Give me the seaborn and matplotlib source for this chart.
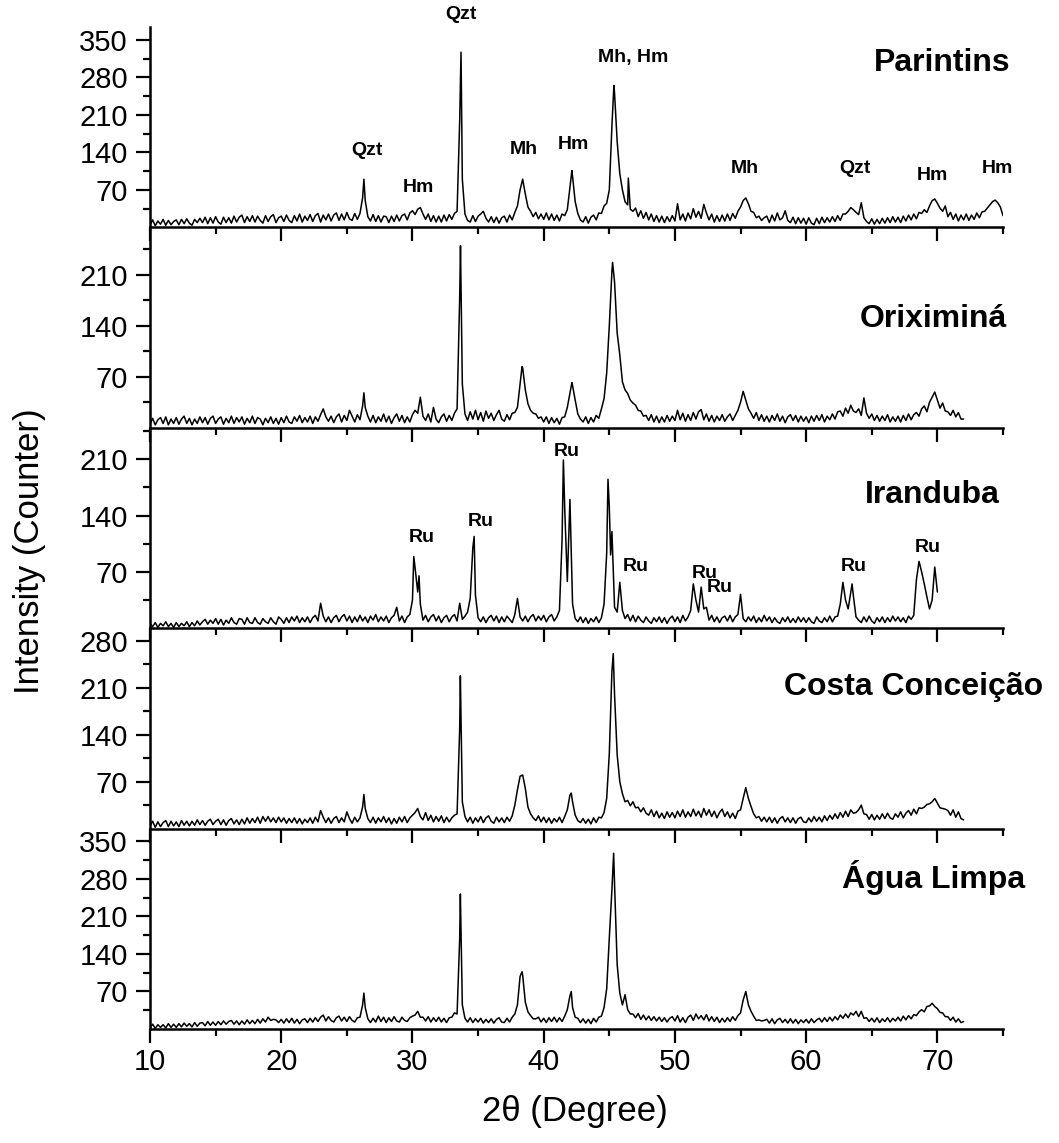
import numpy as np
import matplotlib
matplotlib.use("Agg")
import matplotlib.pyplot as plt
from matplotlib.ticker import MultipleLocator, FixedLocator
import seaborn as sns

# ---------------- data (counts on a 0.2 degree 2-theta grid starting at 10) ----------------
parintins_counts = [
    4, 14, 3, 12, 6,        # 10
    15, 4, 13, 5, 11,       # 11
    14, 5, 15, 7, 16,       # 12
    8, 4, 15, 9, 17,        # 13
    9, 19, 7, 18, 8,        # 14
    20, 10, 6, 19, 9,       # 15
    18, 8, 21, 10, 19,      # 16
    23, 9, 20, 11, 22,      # 17
    10, 21, 13, 8, 22,      # 18
    11, 20, 24, 9, 18,      # 19
    21, 11, 23, 13, 9,      # 20
    22, 12, 25, 10, 21,     # 21
    13, 24, 11, 22, 26,     # 22
    10, 23, 14, 25, 12,     # 23
    23, 27, 13, 25, 14,     # 24
    28, 16, 13, 26, 15,     # 25
    26, 55, 50, 20, 12,     # 26
    24, 11, 22, 10, 21,     # 27
    20, 9, 21, 11, 23,      # 28
    12, 22, 25, 14, 27,     # 29
    31, 24, 34, 37, 25,     # 30
    15, 25, 11, 22, 10,     # 31
    21, 10, 23, 12, 24,     # 32
    15, 26, 30, 200, 90,    # 33
    25, 13, 10, 22, 11,     # 34
    21, 25, 30, 17, 10,     # 35
    20, 9, 19, 8, 18,       # 36
    21, 10, 23, 14, 28,     # 37
    40, 70, 90, 62, 38,     # 38
    30, 20, 28, 16, 25,     # 39
    15, 27, 14, 25, 13,     # 40
    23, 12, 25, 22, 33,     # 41
    75, 95, 48, 26, 14,     # 42
    10, 20, 8, 19, 23,      # 43
    14, 27, 26, 40, 45,     # 44
    70, 190, 250, 160, 100, # 45
    70, 48, 42, 34, 30,     # 46
    36, 20, 31, 17, 28,     # 47
    14, 25, 11, 22, 10,     # 48
    21, 9, 20, 11, 22,      # 49
    12, 44, 14, 25, 12,     # 50
    27, 16, 35, 19, 30,     # 51
    17, 43, 27, 14, 25,     # 52
    10, 22, 11, 23, 12,     # 53
    25, 13, 26, 17, 30,     # 54
    38, 50, 55, 44, 30,     # 55
    28, 18, 21, 13, 18,     # 56
    21, 9, 23, 12, 27,      # 57
    14, 18, 31, 13, 9,      # 58
    19, 7, 18, 8, 17,       # 59
    6, 18, 8, 5, 17,        # 60
    7, 19, 9, 18, 10,       # 61
    20, 11, 22, 13, 25,     # 62
    25, 30, 37, 33, 28,     # 63
    24, 46, 18, 11, 7,      # 64
    16, 6, 15, 7, 17,       # 65
    8, 18, 9, 20, 10,       # 66
    19, 9, 21, 12, 23,      # 67
    14, 25, 16, 28, 26,     # 68
    33, 28, 40, 50, 53,     # 69
    45, 36, 30, 40, 20,     # 70
    28, 15, 25, 12, 23,     # 71
    14, 25, 13, 23, 15,     # 72
    27, 18, 29, 30, 36,     # 73
    42, 48, 51, 46, 38,     # 74
    22,                     # 75
]
parintins_peak_2theta = [26.3, 33.7, 42.15, 45.35, 46.45]
parintins_peak_counts = [90, 327, 106, 265, 92]

oriximina_counts = [
    5, 13, 4, 11, 14,       # 10
    6, 15, 4, 12, 6,        # 11
    14, 5, 12, 16, 6,       # 12
    13, 4, 12, 6, 15,       # 13
    7, 14, 5, 13, 16,       # 14
    6, 12, 15, 5, 13,       # 15
    7, 16, 6, 14, 8,        # 16
    15, 5, 13, 7, 16,       # 17
    6, 14, 12, 4, 13,       # 18
    7, 15, 6, 13, 5,        # 19
    14, 7, 16, 8, 6,        # 20
    15, 9, 17, 7, 14,       # 21
    8, 16, 6, 15, 9,        # 22
    18, 26, 15, 9, 16,      # 23
    7, 15, 19, 8, 17,       # 24
    10, 24, 16, 8, 18,      # 25
    11, 30, 28, 16, 8,      # 26
    17, 7, 15, 9, 19,       # 27
    8, 16, 6, 14, 19,       # 28
    9, 17, 7, 15, 8,        # 29
    18, 24, 20, 42, 16,     # 30
    10, 19, 8, 28, 12,      # 31
    7, 15, 19, 9, 17,       # 32
    10, 20, 26, 180, 60,    # 33
    19, 10, 22, 12, 24,     # 34
    11, 21, 9, 23, 13,      # 35
    20, 10, 18, 24, 12,     # 36
    9, 18, 11, 20, 21,      # 37
    28, 60, 82, 52, 33,     # 38
    24, 20, 19, 13, 15,     # 39
    8, 15, 6, 14, 7,        # 40
    13, 5, 14, 15, 28,      # 41
    47, 58, 38, 19, 12,     # 42
    8, 15, 6, 14, 8,        # 43
    17, 13, 26, 40, 75,     # 44
    140, 215, 200, 130, 100,# 45
    63, 52, 47, 38, 34,     # 46
    31, 24, 23, 16, 17,     # 47
    10, 18, 8, 16, 7,       # 48
    15, 8, 17, 9, 16,       # 49
    10, 24, 11, 20, 9,      # 50
    18, 10, 21, 12, 22,     # 51
    25, 11, 19, 9, 17,      # 52
    8, 16, 10, 18, 9,       # 53
    15, 19, 10, 17, 24,     # 54
    35, 50, 38, 26, 20,     # 55
    13, 21, 10, 18, 9,      # 56
    16, 8, 17, 10, 19,      # 57
    9, 16, 7, 15, 18,       # 58
    10, 17, 8, 16, 9,       # 59
    15, 7, 16, 9, 17,       # 60
    10, 18, 8, 16, 11,      # 61
    19, 12, 22, 23, 16,     # 62
    27, 20, 31, 23, 21,     # 63
    26, 17, 41, 20, 13,     # 64
    19, 10, 17, 9, 16,      # 65
    10, 18, 8, 15, 9,       # 66
    16, 8, 17, 10, 19,      # 67
    11, 18, 21, 16, 26,     # 68
    30, 22, 35, 42, 49,     # 69
    38, 27, 34, 23, 22,     # 70
    17, 24, 15, 21, 12,     # 71
    12,                     # 72
]
oriximina_peak_2theta = [26.3, 33.66, 38.35, 42.15, 45.25]
oriximina_peak_counts = [48, 250, 84, 62, 227]

iranduba_counts = [
    6, 2, 7, 1, 6,          # 10
    3, 8, 2, 6, 1,          # 11
    7, 2, 6, 3, 8,          # 12
    2, 7, 3, 9, 4,          # 13
    8, 11, 5, 10, 6,        # 14
    12, 5, 11, 4, 10,       # 15
    6, 13, 7, 5, 12,        # 16
    11, 5, 13, 7, 6,        # 17
    13, 7, 5, 12, 8,        # 18
    6, 13, 8, 5, 14,        # 19
    11, 6, 13, 7, 14,       # 20
    9, 15, 7, 13, 8,        # 21
    14, 7, 13, 16, 9,       # 22
    31, 15, 8, 14, 7,       # 23
    13, 16, 8, 14, 17,      # 24
    9, 15, 7, 14, 8,        # 25
    16, 9, 14, 7, 15,       # 26
    10, 17, 8, 14, 9,       # 27
    15, 7, 13, 16, 26,      # 28
    9, 15, 7, 14, 17,       # 29
    35, 75, 45, 30, 10,     # 30
    16, 8, 14, 17, 9,       # 31
    15, 7, 13, 16, 8,       # 32
    14, 17, 9, 31, 11,      # 33
    15, 20, 37, 100, 41,    # 34
    13, 8, 14, 7, 13,       # 35
    16, 9, 15, 7, 14,       # 36
    8, 15, 11, 7, 17,       # 37
    37, 14, 9, 15, 8,       # 38
    14, 17, 9, 15, 10,      # 39
    16, 8, 14, 17, 9,       # 40
    14, 22, 110, 150, 58,   # 41
    160, 30, 12, 8, 14,     # 42
    7, 13, 6, 12, 8,        # 43
    14, 7, 13, 30, 93,      # 44
    150, 120, 26, 20, 57,   # 45
    22, 12, 17, 9, 16,      # 46
    8, 15, 10, 7, 14,       # 47
    9, 6, 13, 8, 14,        # 48
    7, 13, 6, 12, 15,       # 49
    8, 14, 7, 16, 9,        # 50
    14, 22, 55, 35, 20,     # 51
    51, 24, 26, 10, 16,     # 52
    8, 14, 7, 13, 15,       # 53
    9, 16, 8, 14, 17,       # 54
    42, 12, 8, 14, 9,       # 55
    15, 7, 13, 8, 16,       # 56
    9, 14, 7, 13, 8,        # 57
    6, 13, 8, 14, 7,        # 58
    12, 7, 14, 8, 13,       # 59
    7, 13, 8, 6, 14,        # 60
    9, 7, 13, 8, 15,        # 61
    8, 14, 15, 30, 57,      # 62
    35, 24, 45, 40, 14,     # 63
    10, 7, 14, 8, 15,       # 64
    9, 6, 13, 8, 14,        # 65
    7, 13, 8, 15, 9,        # 66
    14, 8, 13, 7, 15,       # 67
    11, 16, 60, 83, 70,     # 68
    55, 39, 24, 35, 76,     # 69
    45,                     # 70
]
iranduba_peak_2theta = [30.1, 30.5, 34.7, 41.5, 44.9, 45.1, 63.5]
iranduba_peak_counts = [89, 65, 114, 209, 185, 91, 55]

costa_counts = [
    4, 11, 2, 10, 3,        # 10
    9, 12, 3, 11, 4,        # 11
    10, 3, 12, 5, 11,       # 12
    4, 11, 5, 13, 6,        # 13
    12, 5, 11, 14, 6,       # 14
    11, 14, 6, 13, 5,       # 15
    12, 15, 7, 13, 6,       # 16
    14, 7, 16, 8, 15,       # 17
    9, 17, 8, 18, 11,       # 18
    18, 10, 16, 9, 17,      # 19
    10, 16, 8, 15, 9,       # 20
    16, 8, 15, 7, 14,       # 21
    9, 16, 8, 17, 10,       # 22
    27, 17, 9, 16, 8,       # 23
    15, 18, 9, 16, 10,      # 24
    25, 15, 8, 17, 10,      # 25
    16, 32, 30, 15, 9,      # 26
    17, 8, 16, 10, 18,      # 27
    9, 16, 7, 15, 8,        # 28
    17, 10, 18, 9, 16,      # 29
    20, 24, 30, 18, 13,     # 30
    24, 12, 20, 10, 18,     # 31
    11, 19, 9, 17, 10,      # 32
    16, 20, 22, 150, 40,    # 33
    18, 10, 17, 8, 16,      # 34
    10, 18, 9, 16, 19,      # 35
    11, 8, 17, 10, 16,      # 36
    9, 17, 11, 19, 35,      # 37
    58, 78, 80, 60, 32,     # 38
    22, 16, 12, 19, 10,     # 39
    17, 9, 16, 8, 15,       # 40
    10, 17, 9, 18, 28,      # 41
    50, 40, 20, 12, 9,      # 42
    15, 8, 14, 7, 16,       # 43
    9, 17, 16, 24, 45,      # 44
    112, 235, 200, 110, 70, # 45
    52, 40, 42, 34, 40,     # 46
    31, 32, 25, 31, 23,     # 47
    20, 28, 18, 26, 16,     # 48
    23, 15, 25, 17, 24,     # 49
    16, 26, 18, 28, 17,     # 50
    25, 18, 29, 19, 26,     # 51
    17, 30, 20, 28, 18,     # 52
    26, 16, 24, 29, 18,     # 53
    25, 16, 23, 15, 26,     # 54
    28, 45, 61, 45, 33,     # 55
    22, 16, 18, 11, 17,     # 56
    10, 17, 9, 16, 8,       # 57
    15, 18, 10, 16, 9,      # 58
    16, 8, 15, 17, 10,      # 59
    9, 16, 10, 18, 11,      # 60
    17, 10, 19, 12, 20,     # 61
    14, 22, 15, 24, 17,     # 62
    26, 18, 28, 23, 24,     # 63
    28, 35, 22, 21, 14,     # 64
    21, 13, 20, 14, 22,     # 65
    15, 23, 16, 14, 22,     # 66
    17, 25, 16, 23, 27,     # 67
    20, 29, 22, 31, 30,     # 68
    32, 36, 37, 40, 45,     # 69
    38, 31, 30, 29, 27,     # 70
    20, 28, 17, 25, 15,     # 71
    13,                     # 72
]
costa_peak_2theta = [26.3, 33.65, 42.1, 45.3]
costa_peak_counts = [51, 228, 53, 261]

agua_counts = [
    2, 9, 1, 8, 3,          # 10
    8, 2, 10, 3, 9,         # 11
    3, 10, 4, 11, 5,        # 12
    10, 4, 12, 5, 11,       # 13
    12, 6, 14, 7, 13,       # 14
    7, 14, 8, 15, 9,        # 15
    14, 16, 9, 15, 8,       # 16
    15, 9, 17, 10, 16,      # 17
    10, 18, 11, 19, 13,     # 18
    22, 16, 18, 17, 12,     # 19
    18, 11, 19, 12, 20,     # 20
    11, 18, 10, 17, 19,     # 21
    12, 20, 13, 21, 14,     # 22
    22, 26, 15, 23, 16,     # 23
    13, 21, 24, 15, 22,     # 24
    14, 23, 16, 13, 21,     # 25
    22, 45, 40, 19, 12,     # 26
    20, 13, 24, 14, 22,     # 27
    12, 21, 14, 23, 15,     # 28
    13, 22, 16, 14, 21,     # 29
    24, 26, 33, 22, 22,     # 30
    15, 23, 13, 21, 14,     # 31
    22, 13, 20, 12, 21,     # 32
    22, 30, 28, 170, 45,    # 33
    20, 13, 21, 12, 19,     # 34
    13, 20, 11, 18, 12,     # 35
    19, 11, 18, 21, 13,     # 36
    12, 20, 13, 22, 28,     # 37
    45, 98, 100, 50, 32,    # 38
    25, 19, 19, 22, 13,     # 39
    20, 12, 21, 14, 22,     # 40
    13, 21, 14, 24, 36,     # 41
    62, 40, 22, 20, 12,     # 42
    19, 11, 18, 10, 20,     # 43
    13, 22, 24, 40, 75,     # 44
    170, 260, 270, 120, 67, # 45
    45, 64, 36, 28, 28,     # 46
    21, 29, 18, 26, 17,     # 47
    24, 16, 23, 15, 22,     # 48
    14, 21, 13, 20, 23,     # 49
    15, 25, 13, 21, 12,     # 50
    22, 26, 16, 28, 19,     # 51
    25, 17, 27, 15, 23,     # 52
    14, 22, 12, 20, 13,     # 53
    21, 14, 23, 16, 25,     # 54
    30, 54, 70, 45, 33,     # 55
    24, 16, 17, 15, 16,     # 56
    18, 11, 19, 10, 17,     # 57
    20, 12, 18, 11, 19,     # 58
    11, 18, 10, 17, 12,     # 59
    18, 11, 19, 12, 17,     # 60
    20, 13, 21, 14, 22,     # 61
    15, 23, 17, 26, 20,     # 62
    28, 21, 30, 26, 33,     # 63
    23, 33, 20, 21, 14,     # 64
    20, 13, 21, 12, 19,     # 65
    14, 21, 13, 20, 15,     # 66
    22, 15, 24, 17, 25,     # 67
    19, 27, 25, 32, 36,     # 68
    32, 42, 43, 48, 42,     # 69
    38, 31, 30, 23, 23,     # 70
    16, 22, 13, 19, 12,     # 71
    14,                     # 72
]
agua_peak_2theta = [26.3, 33.65, 38.35, 42.1, 45.33]
agua_peak_counts = [67, 252, 107, 70, 328]

sample_names = ["Parintins", "Oriximiná", "Iranduba", "Costa Conceição", "Água Limpa"]
panel_ymax = [374, 275, 249, 299, 374]

parintins_label_text = ["Qzt", "Hm", "Qzt", "Mh", "Hm", "Mh, Hm", "Mh", "Qzt", "Hm", "Hm"]
parintins_label_2theta = [26.55, 30.45, 33.7, 38.5, 42.25, 46.8, 55.35, 63.7, 69.6, 74.6]
parintins_label_counts = [144, 75, 398, 145, 155, 317, 109, 109, 96, 110]

iranduba_label_text = ["Ru"] * 8
iranduba_label_2theta = [30.7, 35.2, 41.75, 47.0, 52.3, 53.45, 63.6, 69.3]
iranduba_label_counts = [113, 133, 219, 77, 68, 50, 77, 100]

x_tick_values = [10, 20, 30, 40, 50, 60, 70]

# ---------------- styling ----------------
sns.set_theme(style="ticks")
plt.rcParams["font.family"] = ["Liberation Sans", "DejaVu Sans"]
for key in ["text.color", "axes.labelcolor", "axes.edgecolor", "xtick.color", "ytick.color"]:
    plt.rcParams[key] = "black"

W, H = 1059, 1143
fig = plt.figure(figsize=(W / 100, H / 100), dpi=100)
gs = fig.add_gridspec(5, 1, left=150 / W, right=1003 / W,
                      top=1 - 27 / H, bottom=1 - 1029 / H, hspace=0)

grid_counts = [parintins_counts, oriximina_counts, iranduba_counts, costa_counts, agua_counts]
peak_x = [parintins_peak_2theta, oriximina_peak_2theta, iranduba_peak_2theta,
          costa_peak_2theta, agua_peak_2theta]
peak_y = [parintins_peak_counts, oriximina_peak_counts, iranduba_peak_counts,
          costa_peak_counts, agua_peak_counts]

axes = []
for i in range(5):
    ax = fig.add_subplot(gs[i, 0])
    axes.append(ax)
    counts = np.asarray(grid_counts[i], dtype=float)
    tt = 10.0 + 0.2 * np.arange(len(counts))
    x = np.concatenate([tt, np.asarray(peak_x[i], dtype=float)])
    y = np.concatenate([counts, np.asarray(peak_y[i], dtype=float)])
    sns.lineplot(x=x, y=y, ax=ax, color="black", linewidth=1.1,
                 estimator=None, sort=True)
    ax.set_xlim(10, 75)
    ax.set_ylim(0, panel_ymax[i])
    ax.set_xlabel("")
    ax.set_ylabel("")
    for s in ["top", "right"]:
        ax.spines[s].set_visible(False)
    for s in ["left", "bottom"]:
        ax.spines[s].set_linewidth(1.8)
        ax.spines[s].set_color("black")
    ax.xaxis.set_major_locator(MultipleLocator(10))
    ax.xaxis.set_minor_locator(MultipleLocator(5))
    yt = list(range(70, panel_ymax[i] + 1, 70))
    ax.set_yticks(yt)
    ax.yaxis.set_minor_locator(FixedLocator(list(range(35, panel_ymax[i] + 1, 70))))
    ax.tick_params(axis="both", which="major", direction="out", length=10,
                   width=1.6, color="black", labelsize=21, labelcolor="black")
    ax.tick_params(axis="both", which="minor", direction="out", length=5,
                   width=1.6, color="black")
    ax.tick_params(axis="y", which="major", pad=6)
    if i < 4:
        ax.tick_params(axis="x", which="both", labelbottom=False)
    else:
        ax.set_xticks(x_tick_values)
        ax.tick_params(axis="x", which="major", pad=4)
    ax.patch.set_alpha(0)

# peak labels
for t, xx, yy in zip(parintins_label_text, parintins_label_2theta, parintins_label_counts):
    axes[0].text(xx, yy, t, ha="center", va="center", fontsize=14,
                 fontweight="bold", clip_on=False)
for t, xx, yy in zip(iranduba_label_text, iranduba_label_2theta, iranduba_label_counts):
    axes[2].text(xx, yy, t, ha="center", va="center", fontsize=14,
                 fontweight="bold", clip_on=False)

# sample names
name_right_px = [1011, 1007, 1000, 1043, 1025]
name_base_px = [71, 327, 503, 695, 888]
for name, rx, by in zip(sample_names, name_right_px, name_base_px):
    fig.text(rx / W, 1 - by / H, name, ha="right", va="baseline",
             fontsize=23, fontweight="bold")

fig.text(30 / W, 1 - 551 / H, "Intensity (Counter)", rotation=90,
         ha="center", va="center", fontsize=25)
fig.text(575 / W, 1 - 1112 / H, "2θ (Degree)", ha="center", va="center",
         fontsize=25)

fig.savefig("out.png", dpi=100)
